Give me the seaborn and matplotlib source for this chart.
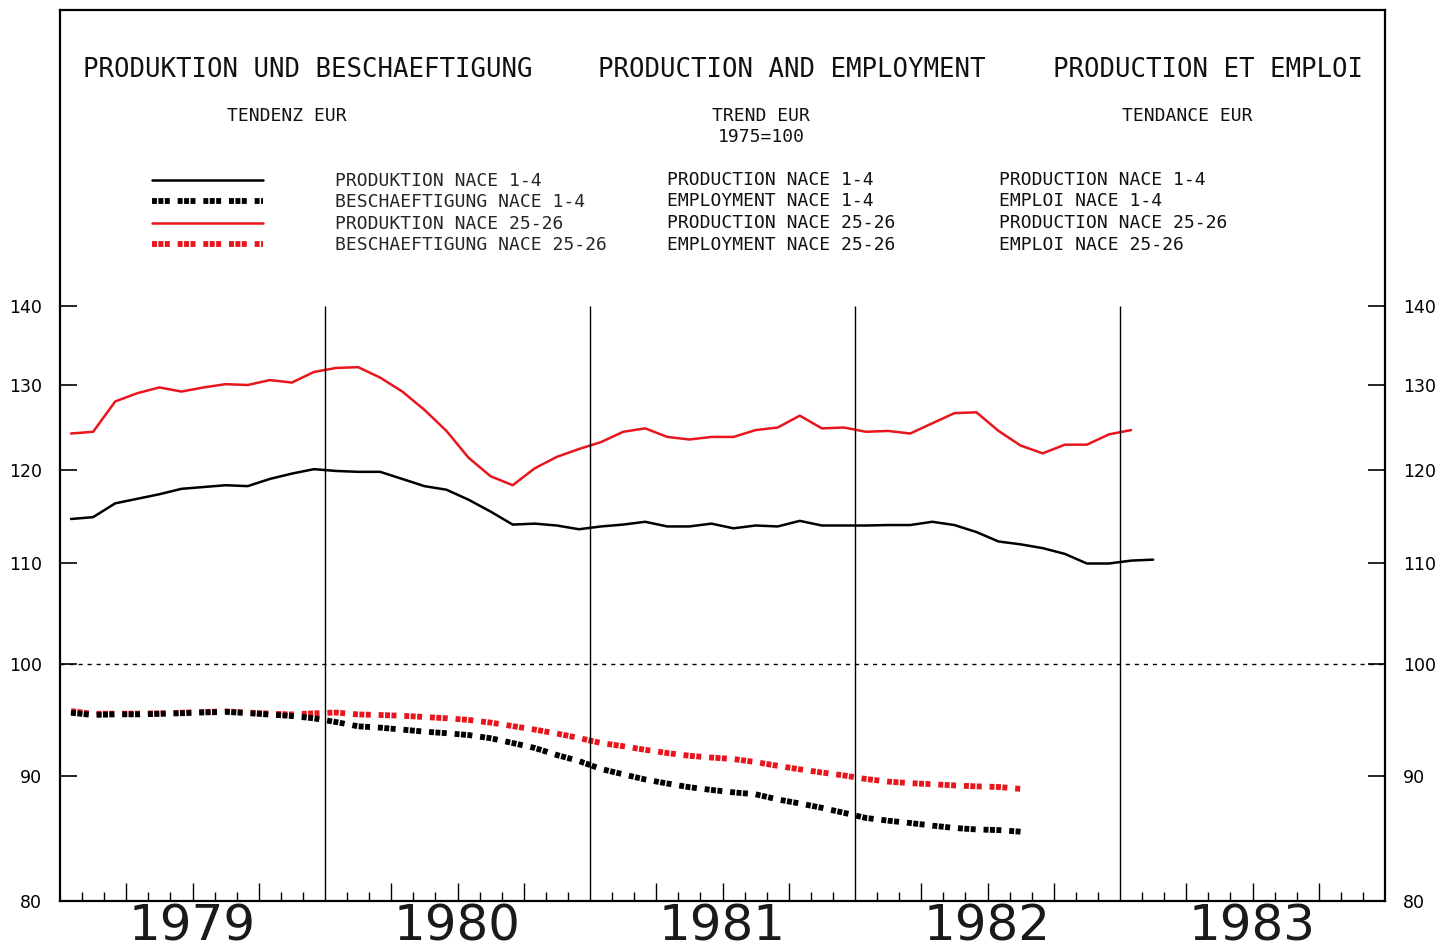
import matplotlib
matplotlib.use("Agg")
import matplotlib.pyplot as plt
from matplotlib.ticker import FixedLocator, NullFormatter, NullLocator
import numpy as np
import pandas as pd
import seaborn as sns

# monthly trend values, 1975=100, starting January 1979
prod_1_4 = [114.6, 114.8, 116.3, 116.8, 117.3, 117.9, 118.1, 118.3, 118.2, 119.0, 119.6, 120.1,
            119.9, 119.8, 119.8, 119.0, 118.2, 117.8, 116.7, 115.4, 114.0, 114.1, 113.9, 113.5,
            113.8, 114.0, 114.3, 113.8, 113.8, 114.1, 113.6, 113.9, 113.8, 114.4, 113.9, 113.9,
            113.9, 113.95, 113.95, 114.3, 113.95, 113.2, 112.2, 111.9, 111.5, 110.9, 109.9, 109.9,
            110.2, 110.3]
empl_1_4 = [95.5, 95.3, 95.36, 95.36, 95.4, 95.46, 95.53, 95.58, 95.47, 95.34, 95.21, 95.0,
            94.67, 94.29, 94.17, 94.0, 93.82, 93.68, 93.52, 93.24, 92.82, 92.39, 91.78, 91.26,
            90.58, 90.13, 89.69, 89.35, 89.04, 88.81, 88.61, 88.45, 88.02, 87.69, 87.33, 86.92,
            86.5, 86.28, 86.09, 85.88, 85.69, 85.57, 85.52, 85.39]
prod_25_26 = [124.2, 124.4, 128.0, 129.0, 129.7, 129.2, 129.7, 130.1, 130.0, 130.6, 130.3, 131.6,
              132.1, 132.2, 130.9, 129.2, 127.0, 124.5, 121.4, 119.3, 118.3, 120.2, 121.5, 122.4,
              123.2, 124.4, 124.8, 123.8, 123.5, 123.8, 123.8, 124.6, 124.9, 126.3, 124.8, 124.9,
              124.4, 124.5, 124.2, 125.4, 126.6, 126.7, 124.5, 122.8, 121.9, 122.9, 122.9, 124.1,
              124.6]
empl_25_26 = [95.65, 95.4, 95.42, 95.42, 95.45, 95.5, 95.57, 95.62, 95.52, 95.42, 95.35, 95.45,
              95.52, 95.35, 95.3, 95.23, 95.12, 95.01, 94.86, 94.62, 94.31, 94.0, 93.65, 93.26,
              92.82, 92.54, 92.23, 91.95, 91.71, 91.56, 91.43, 91.17, 90.85, 90.55, 90.28, 90.03,
              89.73, 89.51, 89.38, 89.29, 89.19, 89.11, 89.06, 88.9]

years = ["1979", "1980", "1981", "1982", "1983"]
y_ticks = [80, 90, 100, 110, 120, 130, 140]

legend_de = ["PRODUKTION NACE 1-4", "BESCHAEFTIGUNG NACE 1-4",
             "PRODUKTION NACE 25-26", "BESCHAEFTIGUNG NACE 25-26"]
legend_en = ["PRODUCTION NACE 1-4", "EMPLOYMENT NACE 1-4",
             "PRODUCTION NACE 25-26", "EMPLOYMENT NACE 25-26"]
legend_fr = ["PRODUCTION NACE 1-4", "EMPLOI NACE 1-4",
             "PRODUCTION NACE 25-26", "EMPLOI NACE 25-26"]

RED = "#e8161c"
BLOCKS = (0, (0.85, 0.25, 0.85, 0.25, 0.85, 1.35))


def frame(values, name):
    return pd.DataFrame({"month": np.arange(len(values)) + 0.5,
                         "index": values, "series": name})


def main():
    sns.set_theme(style="white")
    plt.rcParams["font.family"] = ["DejaVu Sans"]
    mono = "DejaVu Sans Mono"

    W, H = 1453, 948
    fig = plt.figure(figsize=(W / 100, H / 100), dpi=100)
    fig.patch.set_facecolor("white")
    ax = fig.add_axes([60 / W, 1 - 901 / H, (1385 - 60) / W, (901 - 10) / H])

    series = [
        (empl_25_26, legend_de[3], RED, 4.2, BLOCKS),
        (empl_1_4, legend_de[1], "black", 4.2, BLOCKS),
        (prod_1_4, legend_de[0], "black", 1.8, "-"),
        (prod_25_26, legend_de[2], RED, 1.8, "-"),
    ]
    for values, name, color, lw, ls in series:
        sns.lineplot(data=frame(values, name), x="month", y="index", color=color,
                     linewidth=lw, linestyle=ls, ax=ax, legend=False)
        ax.lines[-1].set_dash_capstyle("butt")
        ax.lines[-1].set_label(name)
    by_name = {l.get_label(): l for l in ax.lines}
    handles = [by_name[n] for n in legend_de]

    ax.set_yscale("log")
    ax.set_ylim(80, 185)
    ax.set_xlim(0, 12 * len(years))

    # year separators and the 100 base line
    ax.vlines([12 * k for k in range(1, len(years))], 80, 140, color="black", lw=1.0)
    ax.axhline(100, color="black", lw=1.0, linestyle=(0, (3, 3.5)))

    ax.yaxis.set_major_locator(FixedLocator(y_ticks))
    ax.set_yticklabels([str(t) for t in y_ticks])
    ax.yaxis.set_minor_locator(NullLocator())
    ax.yaxis.set_minor_formatter(NullFormatter())
    ax.tick_params(axis="y", which="major", direction="in", length=12, width=1.2,
                   left=True, right=True, labelleft=True, labelright=True,
                   labelsize=12.5, pad=13, colors="black")

    quarters = [m for m in range(1, 12 * len(years)) if m % 3 == 0 and m % 12 != 0]
    months = [m for m in range(1, 12 * len(years)) if m % 3 != 0]
    ax.xaxis.set_major_locator(FixedLocator(quarters))
    ax.xaxis.set_minor_locator(FixedLocator(months))
    ax.xaxis.set_major_formatter(NullFormatter())
    ax.tick_params(axis="x", which="major", direction="in", length=13, width=1.0,
                   bottom=True, top=False, colors="black")
    ax.tick_params(axis="x", which="minor", direction="in", length=6.5, width=1.0,
                   bottom=True, top=False, colors="black")
    ax.set_xlabel("")
    ax.set_ylabel("")

    for k, year in enumerate(years):
        ax.text(12 * k + 6, -0.029, year, transform=ax.get_xaxis_transform(),
                ha="center", va="center", fontsize=36, color="#1a1a1a")

    for spine in ax.spines.values():
        spine.set_color("black")
        spine.set_linewidth(1.6)
    ax.grid(False)

    def ftext(x, y, s, size, ha="left"):
        fig.text(x / W, 1 - y / H, s, ha=ha, va="center", fontsize=size,
                 family=mono, color="#111111")

    ftext(83, 70, "PRODUKTION UND BESCHAEFTIGUNG", 18.5)
    ftext(598, 70, "PRODUCTION AND EMPLOYMENT", 18.5)
    ftext(1053, 70, "PRODUCTION ET EMPLOI", 18.5)
    ftext(287, 116, "TENDENZ EUR", 13, ha="center")
    ftext(761, 116, "TREND EUR", 13, ha="center")
    ftext(761, 137, "1975=100", 13, ha="center")
    ftext(1187, 116, "TENDANCE EUR", 13, ha="center")

    rows = [180, 201.5, 223, 244.5]
    for row, en, fr in zip(rows, legend_en, legend_fr):
        ftext(667, row, en, 13)
        ftext(999, row, fr, 13)

    ax.legend(handles, legend_de, loc="upper left",
              bbox_to_anchor=((152 - 60) / (1385 - 60), 1 - (172 - 10) / (901 - 10)),
              frameon=False, borderaxespad=0, borderpad=0,
              handlelength=6.15, handletextpad=4.0, labelspacing=0.19,
              prop={"family": mono, "size": 13})

    fig.savefig("out.png", dpi=100, facecolor="white")
    plt.close(fig)


if __name__ == "__main__":
    main()
